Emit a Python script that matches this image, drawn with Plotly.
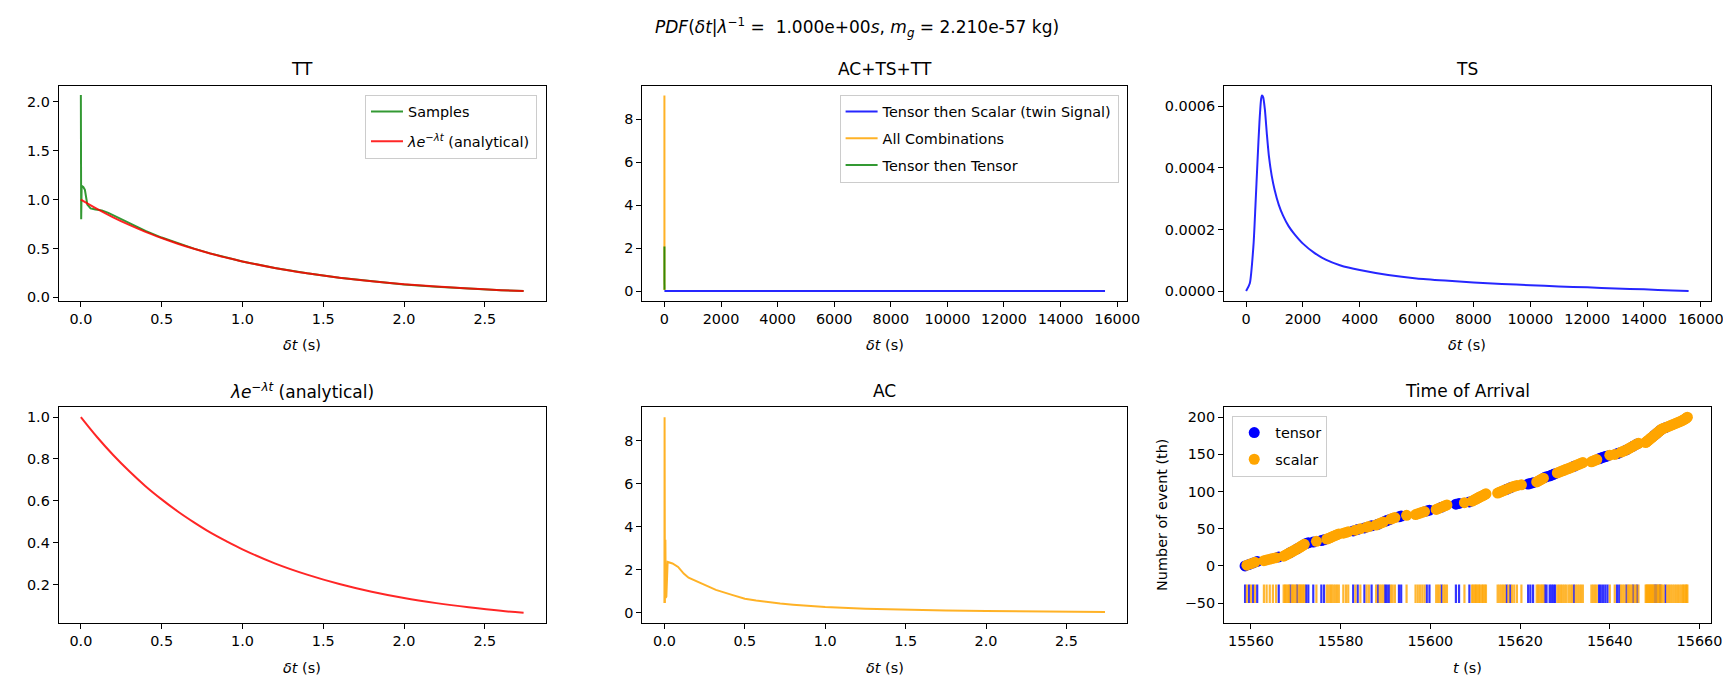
import numpy as np
import plotly.graph_objects as go
from plotly.subplots import make_subplots

FONT = "DejaVu Sans"
TICK_SIZE = 14.4
TITLE_SIZE = 17

# --- delta t (seconds) curves -------------------------------------------
analytic_t = [0, 0.1, 0.2, 0.3, 0.4, 0.5, 0.6, 0.7, 0.8, 0.9, 1.0, 1.2, 1.4, 1.6, 1.8, 2.0, 2.2, 2.4,
              2.6, 2.74]
analytic_pdf = [1.0, 0.905, 0.819, 0.741, 0.670, 0.607, 0.549, 0.497, 0.449, 0.407, 0.368, 0.301, 0.247,
                0.202, 0.165, 0.135, 0.111, 0.091, 0.074, 0.065]

tt_t = [0, 0.002, 0.005, 0.015, 0.025, 0.04, 0.06, 0.09, 0.13, 0.17, 0.22, 0.3, 0.4, 0.5, 0.6, 0.7, 0.8,
        0.9, 1.0, 1.2, 1.4, 1.6, 1.8, 2.0, 2.2, 2.4, 2.6, 2.74]
tt_pdf = [2.07, 0.8, 1.14, 1.13, 1.10, 0.95, 0.91, 0.90, 0.89, 0.865, 0.825, 0.765, 0.68, 0.612, 0.552,
          0.499, 0.45, 0.407, 0.368, 0.30, 0.246, 0.20, 0.163, 0.133, 0.11, 0.09, 0.074, 0.065]

ac_t = [0, 0.001, 0.003, 0.006, 0.008, 0.012, 0.02, 0.05, 0.085, 0.12, 0.15, 0.23, 0.32, 0.42, 0.5,
        0.57, 0.64, 0.72, 0.8, 0.9, 1.0, 1.25, 1.5, 1.75, 2.0, 2.25, 2.5, 2.74]
ac_pdf = [0.46, 9.1, 0.46, 3.4, 0.7, 0.76, 2.37, 2.3, 2.14, 1.83, 1.64, 1.38, 1.07, 0.84, 0.66,
          0.575, 0.505, 0.44, 0.385, 0.325, 0.275, 0.2, 0.15, 0.118, 0.092, 0.074, 0.06, 0.05]

ts_t = [0, 130, 260, 330, 400, 470, 530, 560, 600, 660, 730, 800, 900, 1000, 1150, 1300, 1500, 1700,
        2000, 2400, 2800, 3300, 4000, 5000, 6000, 7000, 8000, 9000, 10000, 11000, 12000, 13000, 14000,
        15000, 15570]
ts_pdf = [0, 0.000025, 0.00015, 0.00028, 0.00042, 0.00055, 0.000625, 0.000635, 0.00063, 0.00059,
          0.00051, 0.00044, 0.000375, 0.00033, 0.00028, 0.000245, 0.00021, 0.000185, 0.000154,
          0.000124, 0.000102, 0.000084, 0.000068, 0.000052, 0.000041, 0.000034, 0.000028, 0.000023,
          0.000019, 0.000015, 0.000012, 0.0000085, 0.0000055, 0.000002, 0.0000005]

# --- arrival times (s) ---------------------------------------------------
tensor_times = [15558.7, 15559.6, 15560.5, 15561.4, 15566.2, 15568.8, 15570.3, 15572.3, 15572.8,
                15573.9, 15575.7, 15576.3, 15582.8, 15583.8, 15585.3, 15586.9, 15588.3, 15589.9,
                15590.3, 15590.8, 15593.0, 15593.5, 15599.2, 15599.8, 15602.5, 15605.7, 15606.4,
                15608.7, 15617.0, 15617.8, 15621.8, 15622.3, 15622.9, 15625.5, 15625.9, 15626.6,
                15627.0, 15627.4, 15627.8, 15632.0, 15637.6, 15638.0, 15638.5, 15639.0, 15639.5,
                15641.6, 15642.1, 15643.7, 15645.2, 15646.1, 15650.0, 15650.4, 15651.2, 15652.4]
scalar_times = [15559.1, 15560.0, 15560.9, 15562.9, 15563.5, 15564.2, 15564.9, 15565.6, 15567.3,
                15567.6, 15567.9, 15568.2, 15568.5, 15569.1, 15569.4, 15569.7, 15570.0, 15570.6,
                15570.9, 15571.1, 15571.4, 15571.7, 15571.9, 15574.6, 15576.9, 15577.3, 15577.7,
                15578.0, 15578.4, 15578.8, 15579.2, 15579.6, 15580.6, 15581.2, 15581.7, 15583.3,
                15584.4, 15585.8, 15586.3, 15587.9, 15588.7, 15589.1, 15589.5, 15591.2, 15591.6,
                15592.1, 15594.7, 15596.7, 15597.2, 15597.7, 15598.2, 15598.7, 15601.3, 15601.7,
                15602.1, 15602.9, 15603.3, 15603.7, 15607.6, 15609.3, 15609.6, 15609.9, 15610.2,
                15610.5, 15610.8, 15611.1, 15611.5, 15611.8, 15612.1, 15612.4, 15615.0, 15615.4,
                15615.8, 15616.2, 15616.6, 15617.4, 15618.2, 15618.7, 15619.3, 15620.3, 15623.7,
                15624.0, 15624.3, 15624.6, 15624.9, 15625.2, 15628.3, 15628.7, 15629.1, 15629.5,
                15629.9, 15630.3, 15630.8, 15631.2, 15631.6, 15632.4, 15632.8, 15633.2, 15633.6,
                15634.0, 15635.9, 15636.3, 15636.7, 15637.1, 15640.0, 15641.1, 15642.5, 15642.9,
                15643.3, 15644.0, 15644.3, 15644.6, 15644.9, 15645.5, 15645.8, 15646.4, 15648.0,
                15648.2, 15648.4, 15648.6, 15648.8, 15649.0, 15649.2, 15649.4, 15649.6, 15649.8,
                15650.2, 15650.6, 15650.8, 15651.0, 15651.4, 15651.6, 15652.0, 15652.8, 15653.2,
                15653.6, 15654.0, 15654.4, 15654.8, 15655.2, 15655.6, 15656.0, 15656.3, 15656.6,
                15656.9, 15657.1, 15657.3]
rug_low, rug_high = -50, -25

# event number = rank of each arrival in the merged sequence
all_times = np.array(tensor_times + scalar_times)
order = all_times.argsort(kind="stable")
rank = np.empty(len(all_times), dtype=int)
rank[order] = np.arange(len(all_times))
tensor_idx = rank[:len(tensor_times)]
scalar_idx = rank[len(tensor_times):]

RED = "rgba(255,0,0,0.85)"
GREEN = "rgba(0,128,0,0.8)"
BLUE = "rgba(0,0,255,0.85)"
ORANGE = "rgba(255,165,0,0.85)"
LAMBDA_TXT = "<i>λe</i><sup>−<i>λt</i></sup> (analytical)"

fig = make_subplots(rows=2, cols=3)

# TT
fig.add_trace(go.Scatter(x=tt_t, y=tt_pdf, mode="lines", name="Samples", line=dict(color=GREEN, width=2),
                         legend="legend", legendgroup="a"), row=1, col=1)
fig.add_trace(go.Scatter(x=analytic_t, y=analytic_pdf, mode="lines", name=LAMBDA_TXT,
                         line=dict(color=RED, width=2, shape="spline"), legend="legend", legendgroup="b"),
              row=1, col=1)

# AC+TS+TT
fig.add_trace(go.Scatter(x=ts_t, y=ts_pdf, mode="lines", name="Tensor then Scalar (twin Signal)",
                         line=dict(color=BLUE, width=2), legend="legend2", legendgroup="c"), row=1, col=2)
fig.add_trace(go.Scatter(x=ac_t, y=ac_pdf, mode="lines", name="All Combinations",
                         line=dict(color=ORANGE, width=2), legend="legend2", legendgroup="d"), row=1, col=2)
fig.add_trace(go.Scatter(x=tt_t, y=tt_pdf, mode="lines", name="Tensor then Tensor",
                         line=dict(color=GREEN, width=2), legend="legend2", legendgroup="e"), row=1, col=2)

# TS
fig.add_trace(go.Scatter(x=ts_t, y=ts_pdf, mode="lines", showlegend=False,
                         line=dict(color=BLUE, width=2, shape="spline", smoothing=0.6)), row=1, col=3)

# analytical
fig.add_trace(go.Scatter(x=analytic_t, y=analytic_pdf, mode="lines", showlegend=False,
                         line=dict(color=RED, width=2, shape="spline")), row=2, col=1)

# AC
fig.add_trace(go.Scatter(x=ac_t, y=ac_pdf, mode="lines", showlegend=False,
                         line=dict(color=ORANGE, width=2)), row=2, col=2)

# Time of arrival
fig.add_trace(go.Scatter(x=tensor_times, y=tensor_idx, mode="markers", name="tensor",
                         marker=dict(color="#0000ff", size=11), legend="legend3", legendgroup="f"),
              row=2, col=3)
fig.add_trace(go.Scatter(x=scalar_times, y=scalar_idx, mode="markers", name="scalar",
                         marker=dict(color="#ffa500", size=11), legend="legend3", legendgroup="g"),
              row=2, col=3)


def rug(times):
    xs, ys = [], []
    for t in times:
        xs += [t, t, None]
        ys += [rug_low, rug_high, None]
    return xs, ys


for times, col in [(tensor_times, "rgba(0,0,255,0.8)"), (scalar_times, "rgba(255,165,0,0.8)")]:
    rx, ry = rug(times)
    fig.add_trace(go.Scatter(x=rx, y=ry, mode="lines", showlegend=False,
                             line=dict(color=col, width=2.2)), row=2, col=3)

# layout / axes
W, H = 1731, 679
x_dom = [[51.1 / W, 541.8 / W], [639.2 / W, 1127.5 / W], [1225.2 / W, 1715.6 / W]]
y_dom = [[1 - 295 / H, 1 - 78.3 / H], [1 - 619.3 / H, 1 - 402.3 / H]]

axis_cfg = [
    # (row, col, xrange, xdtick, xfmt, yrange, ydtick, yfmt)
    (1, 1, [-0.137, 2.877], 0.5, ".1f", [-0.035, 2.165], 0.5, ".1f"),
    (1, 2, [-778, 16348], 2000, "d", [-0.455, 9.555], 2, "d"),
    (1, 3, [-778, 16348], 2000, "d", [-0.0000318, 0.000667], 0.0002, ".4f"),
    (2, 1, [-0.137, 2.877], 0.5, ".1f", [0.0172, 1.0468], 0.2, ".1f"),
    (2, 2, [-0.137, 2.877], 0.5, ".1f", [-0.455, 9.555], 2, "d"),
    (2, 3, [15554.0, 15662.5], 20, "d", [-76.5, 213.3], 50, "d"),
]
common = dict(showline=True, mirror=True, linecolor="black", linewidth=1, showgrid=False, zeroline=False,
              ticks="outside", ticklen=5, tickwidth=1, tickcolor="black",
              tickfont=dict(family=FONT, size=TICK_SIZE, color="black"))
for r, c, xr, xd, xf, yr, yd, yf in axis_cfg:
    fig.update_xaxes(range=xr, dtick=xd, tick0=0, tickformat=xf, domain=x_dom[c - 1], row=r, col=c, **common)
    fig.update_yaxes(range=yr, dtick=yd, tick0=0, tickformat=yf, domain=y_dom[r - 1], row=r, col=c, **common)

annotations = []
titles = ["TT", "AC+TS+TT", "TS", LAMBDA_TXT, "AC", "Time of Arrival"]
title_y = [1 - 61.7 / H, 1 - 385.5 / H]
for i, ttl in enumerate(titles):
    r, c = divmod(i, 3)
    annotations.append(dict(text=ttl, x=sum(x_dom[c]) / 2, y=title_y[r], xref="paper", yref="paper",
                            xanchor="center", yanchor="middle", showarrow=False,
                            font=dict(family=FONT, size=TITLE_SIZE, color="black")))
xlabel_y = [1 - 340 / H, 1 - 665 / H]
for i in range(6):
    r, c = divmod(i, 3)
    lbl = "<i>t</i> (s)" if i == 5 else "<i>δt</i> (s)"
    annotations.append(dict(text=lbl, x=sum(x_dom[c]) / 2, y=xlabel_y[r], xref="paper", yref="paper",
                            xanchor="center", yanchor="middle", showarrow=False,
                            font=dict(family=FONT, size=TICK_SIZE, color="black")))
annotations.append(dict(text="Number of event (th)", x=1162.6 / W, y=sum(y_dom[1]) / 2, xref="paper",
                        yref="paper", xanchor="center", yanchor="middle", textangle=-90, showarrow=False,
                        font=dict(family=FONT, size=TICK_SIZE, color="black")))
annotations.append(dict(text="<i>PDF</i>(<i>δt</i>|<i>λ</i><sup>−1</sup> =  1.000e+00<i>s</i>, "
                             "<i>m<sub>g</sub></i> = 2.210e-57 kg)",
                        x=855 / W, y=1 - 19.3 / H, xref="paper", yref="paper", xanchor="center",
                        yanchor="middle", showarrow=False,
                        font=dict(family=FONT, size=TITLE_SIZE, color="black")))

legend_common = dict(bgcolor="rgba(255,255,255,0.8)", bordercolor="#cccccc", borderwidth=1,
                     font=dict(family=FONT, size=TICK_SIZE, color="black"), xref="paper", yref="paper",
                     itemwidth=32)
fig.update_layout(
    width=W, height=H, margin=dict(l=0, r=0, t=0, b=0),
    paper_bgcolor="white", plot_bgcolor="white",
    font=dict(family=FONT, size=TICK_SIZE, color="black"),
    annotations=annotations,
    legend=dict(x=533 / W, y=1 - 87.3 / H, xanchor="right", yanchor="top", tracegroupgap=8,
                **legend_common),
    legend2=dict(x=1119 / W, y=1 - 87.3 / H, xanchor="right", yanchor="top", tracegroupgap=5,
                 **legend_common),
    legend3=dict(x=1233.5 / W, y=1 - 410.7 / H, xanchor="left", yanchor="top", tracegroupgap=5,
                 **legend_common),
)

fig.write_html("out.html")
